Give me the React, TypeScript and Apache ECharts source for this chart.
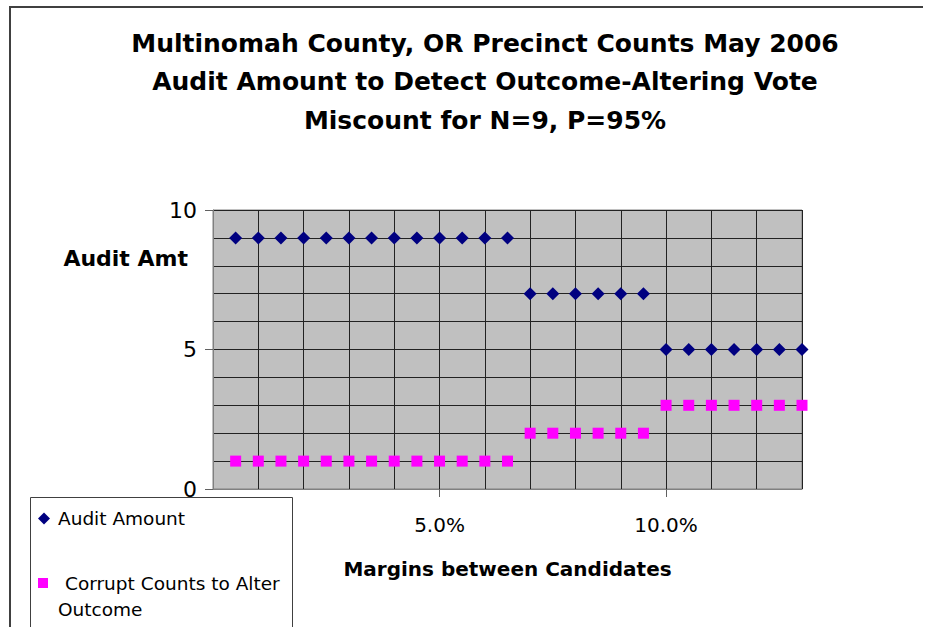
import React, { useEffect, useRef } from "react";
import * as echarts from "echarts";

const titleLines = [
  "Multinomah County, OR Precinct Counts May 2006",
  "Audit Amount to Detect Outcome-Altering Vote",
  "Miscount for N=9, P=95%",
];
const margins = [0.5, 1, 1.5, 2, 2.5, 3, 3.5, 4, 4.5, 5, 5.5, 6, 6.5, 7, 7.5, 8, 8.5, 9, 9.5, 10, 10.5, 11, 11.5, 12, 12.5, 13];
const auditAmount = [9, 9, 9, 9, 9, 9, 9, 9, 9, 9, 9, 9, 9, 7, 7, 7, 7, 7, 7, 5, 5, 5, 5, 5, 5, 5];
const corruptCounts = [1, 1, 1, 1, 1, 1, 1, 1, 1, 1, 1, 1, 1, 2, 2, 2, 2, 2, 2, 3, 3, 3, 3, 3, 3, 3];
const xTickValues = [5, 10];
const yTickValues = [0, 5, 10];
const seriesNames = ["Audit Amount", "Corrupt Counts to Alter Outcome"];
const xAxisTitle = "Margins between Candidates";
const yAxisTitle = "Audit Amt";

const FONT = "'DejaVu Sans', 'Liberation Sans', Arial, sans-serif";

export default function App() {
  const ref = useRef<HTMLDivElement>(null);
  useEffect(() => {
    if (!ref.current) return;
    const chart = echarts.init(ref.current, null, { renderer: "svg" });
    const gridLine = { show: true, lineStyle: { color: "#222222", width: 1 } };
    chart.setOption({
      animation: false,
      backgroundColor: "#ffffff",
      title: {
        text: titleLines.join("\n"),
        left: 485,
        top: 24,
        padding: 0,
        textAlign: "center",
        textStyle: {
          fontFamily: FONT,
          fontWeight: "bold",
          fontSize: 25,
          lineHeight: 38.5,
          color: "#000",
        },
      },
      grid: {
        left: 213,
        right: 140,
        top: 210,
        bottom: 138,
        show: true,
        backgroundColor: "#C0C0C0",
        borderColor: "#808080",
        borderWidth: 1,
        containLabel: false,
      },
      legend: [
        {
          data: [seriesNames[0]],
          orient: "vertical",
          left: 38,
          top: 509,
          itemWidth: 12,
          itemHeight: 12,
          padding: 0,
          textStyle: { fontFamily: FONT, fontSize: 18.5, color: "#000", padding: [0, 0, 0, 3] },
        },
        {
          data: [seriesNames[1]],
          orient: "vertical",
          left: 38,
          top: 544,
          itemWidth: 10,
          itemHeight: 10,
          padding: 0,
          formatter: () => "{a|Corrupt Counts to Alter}\n{b|Outcome}",
          textStyle: {
            fontFamily: FONT,
            fontSize: 18.5,
            color: "#000",
            lineHeight: 26,
            padding: [26, 0, 0, 0],
            rich: {
              a: { fontFamily: FONT, fontSize: 18.5, color: "#000", lineHeight: 26, padding: [0, 0, 0, 12] },
              b: { fontFamily: FONT, fontSize: 18.5, color: "#000", lineHeight: 26, padding: [0, 0, 0, 5] },
            },
          },
        },
      ],
      xAxis: [
        {
          type: "value",
          min: 0,
          max: 13,
          interval: 1,
          position: "bottom",
          name: xAxisTitle,
          nameLocation: "middle",
          nameGap: 70,
          nameTextStyle: { fontFamily: FONT, fontWeight: "bold", fontSize: 20, color: "#000" },
          axisLine: { show: true, lineStyle: { color: "#808080", width: 1 } },
          axisTick: { show: false },
          axisLabel: { show: false },
          splitLine: gridLine,
        },
        {
          type: "value",
          min: 0,
          max: 13,
          interval: 1,
          position: "bottom",
          axisLine: { show: false },
          axisTick: { show: true, customValues: xTickValues, length: 8, lineStyle: { color: "#606060" } },
          axisLabel: {
            show: true,
            customValues: xTickValues,
            margin: 26,
            fontFamily: FONT,
            fontSize: 20,
            color: "#000",
            formatter: (v: number) => v.toFixed(1) + "%",
          },
          splitLine: { show: false },
        },
      ],
      yAxis: [
        {
          type: "value",
          min: 0,
          max: 10,
          interval: 1,
          position: "left",
          axisLine: { show: true, lineStyle: { color: "#808080", width: 1 } },
          axisTick: { show: false },
          axisLabel: { show: false },
          splitLine: gridLine,
        },
        {
          type: "value",
          min: 0,
          max: 10,
          interval: 1,
          position: "left",
          axisLine: { show: false },
          axisTick: { show: true, customValues: yTickValues, length: 8, lineStyle: { color: "#606060" } },
          axisLabel: {
            show: true,
            customValues: yTickValues,
            margin: 16,
            fontFamily: FONT,
            fontSize: 22,
            color: "#000",
          },
          splitLine: { show: false },
        },
      ],
      series: [
        {
          name: seriesNames[0],
          type: "scatter",
          xAxisIndex: 0,
          yAxisIndex: 0,
          symbol: "diamond",
          symbolSize: 13,
          itemStyle: { color: "#000080", opacity: 1 },
          data: margins.map((m, i) => [m, auditAmount[i]]),
        },
        {
          name: seriesNames[1],
          type: "scatter",
          xAxisIndex: 0,
          yAxisIndex: 0,
          symbol: "rect",
          symbolSize: 11,
          itemStyle: { color: "#FF00FF", opacity: 1 },
          data: margins.map((m, i) => [m, corruptCounts[i]]),
        },
      ],
      graphic: [
        {
          type: "text",
          x: 188,
          y: 258,
          style: {
            text: yAxisTitle,
            fontFamily: FONT,
            fontWeight: "bold",
            fontSize: 22,
            fill: "#000",
            align: "right",
            verticalAlign: "middle",
          },
          silent: true,
        },
        {
          type: "line",
          shape: { x1: 9, y1: 7, x2: 923, y2: 7 },
          style: { stroke: "#404040", lineWidth: 2 },
          silent: true,
        },
        {
          type: "line",
          shape: { x1: 10, y1: 7, x2: 10, y2: 640 },
          style: { stroke: "#404040", lineWidth: 2 },
          silent: true,
        },
        {
          type: "rect",
          shape: { x: 30.5, y: 497.5, width: 262, height: 200 },
          style: { fill: "none", stroke: "#404040", lineWidth: 1 },
          silent: true,
          z: -1,
        },
      ],
    });
    return () => chart.dispose();
  }, []);
  return (
    <div
      ref={ref}
      style={{ position: "absolute", left: 0, top: 0, width: 942, height: 627 }}
    />
  );
}
